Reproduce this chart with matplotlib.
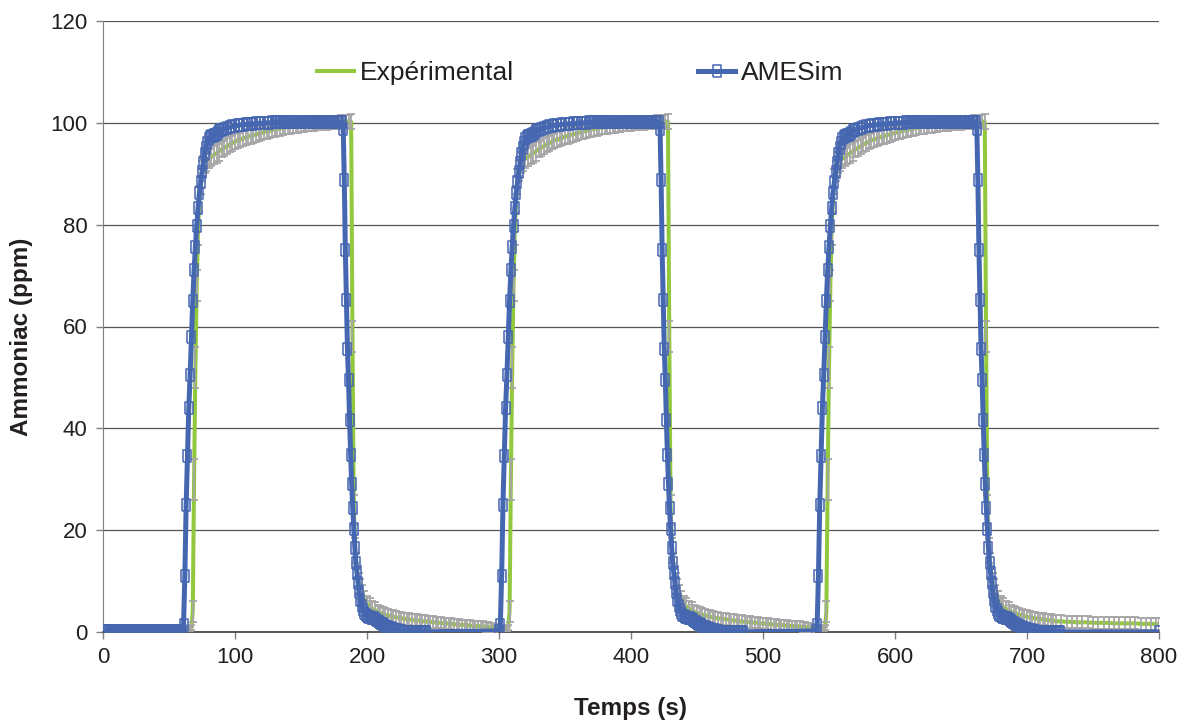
import numpy as np
import matplotlib
matplotlib.use("Agg")
import matplotlib.pyplot as plt

# ---------------- data ----------------
cycle_starts = [0, 240, 480]          # s, the three ammonia pulses

# Experimental: baseline before first pulse (t, value, error)
exp_base_t = [0, 2, 4, 6, 8, 10, 12, 14, 16, 18, 20, 22, 24, 26, 28, 30, 32, 34, 36, 38,
              40, 42, 44, 46, 48, 50, 52, 54, 56, 58]
exp_base_v = [0.6, 0.7, 0.6, 0.5, 0.6, 0.7, 0.6, 0.6, 0.5, 0.6, 0.7, 0.6, 0.6, 0.5, 0.6,
              0.7, 0.6, 0.6, 0.5, 0.6, 0.7, 0.6, 0.6, 0.5, 0.6, 0.7, 0.6, 0.6, 0.5, 0.6]
exp_base_e = [0.4] * 30

# Experimental: one cycle, local time tau (s), value (ppm), error (ppm)
exp_tau = [60, 62, 64, 66, 67, 68, 69, 70, 71, 72, 73, 74, 75, 76, 77, 78, 80, 82, 84, 86,
           88, 90, 92, 94, 96, 98, 100, 102, 104, 106, 108, 110, 112, 114, 116, 118, 120,
           122, 124, 126, 128, 130, 132, 134, 136, 138, 140, 142, 144, 146, 148, 150, 152,
           154, 156, 158, 160, 162, 164, 166, 168, 170, 172, 174, 176, 178, 180, 182, 184,
           186, 188, 189, 190, 191, 192, 193, 194, 195, 196, 198, 200, 202, 204, 206, 208,
           210, 212, 214, 216, 218, 220, 222, 224, 226, 228, 230, 232, 234, 236, 238, 240,
           242, 244, 246, 248, 250, 252, 254, 256, 258, 260, 262, 264, 266, 268, 270, 272,
           274, 276, 278, 280, 282, 284, 286, 288, 290, 292, 294, 296, 298]
exp_val = [0.6, 0.5, 0.7, 0.6, 0.9, 4, 30, 52, 68, 79, 85, 88.5, 90.5, 91.5, 92.2, 92.6,
           93.0, 93.3, 93.7, 94.0, 94.4, 94.8, 95.1, 95.4, 95.8, 96.0, 96.3, 96.6, 96.7,
           96.9, 97.1, 97.3, 97.4, 97.6, 97.7, 97.9, 98.0, 98.2, 98.3, 98.4, 98.6, 98.7,
           98.8, 98.9, 99.0, 99.1, 99.2, 99.2, 99.3, 99.4, 99.4, 99.5, 99.5, 99.6, 99.6,
           99.7, 99.7, 99.8, 99.8, 99.8, 99.9, 99.9, 100.0, 100.0, 100.1, 100.1, 100.2,
           100.2, 100.3, 100.3, 100.2, 58, 24, 16, 13, 11, 9.6, 8.4, 7.5, 6.3, 5.5, 5.0,
           4.6, 4.3, 4.0, 3.8, 3.6, 3.4, 3.3, 3.1, 3.0, 2.9, 2.8, 2.7, 2.6, 2.6, 2.5, 2.4,
           2.3, 2.3, 2.2, 2.1, 2.1, 2.0, 2.0, 1.9, 1.9, 1.8, 1.8, 1.7, 1.7, 1.6, 1.6, 1.5,
           1.5, 1.4, 1.4, 1.4, 1.3, 1.3, 1.2, 1.2, 1.2, 1.1, 1.1, 1.0, 1.0, 0.9, 0.8, 0.7]
exp_err = [0.4, 0.4, 0.4, 0.4, 0.5, 2, 4, 4, 3, 3, 2.5, 2.5, 2, 2, 2, 2, 1.8, 1.8, 1.8,
           1.8, 1.8, 1.6, 1.6, 1.6, 1.6, 1.6, 1.5, 1.5, 1.5, 1.5, 1.5, 1.5, 1.5, 1.5, 1.5,
           1.5, 1.4, 1.4, 1.4, 1.4, 1.4, 1.4, 1.4, 1.4, 1.3, 1.3, 1.3, 1.3, 1.3, 1.3, 1.3,
           1.3, 1.3, 1.3, 1.3, 1.3, 1.3, 1.3, 1.3, 1.3, 1.3, 1.3, 1.3, 1.3, 1.3, 1.3, 1.3,
           1.3, 1.3, 1.3, 1.5, 3, 3, 2.5, 2.5, 2, 2, 2, 1.8, 1.8, 1.6, 1.6, 1.5, 1.5, 1.4,
           1.4, 1.4, 1.3, 1.3, 1.3, 1.3, 1.3, 1.2, 1.2, 1.2, 1.2, 1.2, 1.2, 1.2, 1.2, 1.2,
           1.2, 1.2, 1.2, 1.2, 1.2, 1.1, 1.1, 1.1, 1.1, 1.1, 1.1, 1.1, 1.1, 1.1, 1.1, 1.0,
           1.0, 1.0, 1.0, 1.0, 1.0, 1.0, 1.0, 1.0, 1.0, 0.9, 0.9, 0.8, 0.6]

# Experimental: final tail after the third pulse
exp_end_t = [722, 726, 730, 734, 738, 742, 746, 750, 754, 758, 762, 766, 770, 774, 778,
             782, 786, 790, 794, 798, 800]
exp_end_v = [2.1, 2.1, 2.0, 2.0, 1.9, 1.9, 1.9, 1.8, 1.8, 1.8, 1.8, 1.7, 1.7, 1.7, 1.7,
             1.7, 1.6, 1.6, 1.6, 1.6, 1.6]
exp_end_e = [1.2] * 21

# AMESim: one cycle, local time tau (s) and value (ppm)
sim_base_tau = list(range(0, 61))
sim_base_val = [0.2] * 61
sim_rise_tau = [61, 62, 63, 64, 65, 66, 67, 68, 69, 70, 71, 72, 73, 74, 75, 76, 77, 78, 79,
                80, 81, 82, 83, 84, 85, 86, 87, 88, 89, 90, 92, 94, 96, 98, 100, 102, 104,
                106, 108, 110, 112, 114, 116, 118, 120, 122, 124, 126, 128]
sim_rise_val = [1.3, 11, 25, 34.5, 44, 50.5, 58, 65, 71, 75.7, 79.7, 83.2, 86.2, 88.3, 90.3,
                92.2, 93.8, 95.1, 96.1, 96.8, 97.2, 97.4, 97.5, 97.6, 97.7, 97.9, 98.1, 98.3,
                98.5, 98.6, 98.8, 99.0, 99.1, 99.3, 99.4, 99.5, 99.6, 99.6, 99.7, 99.7, 99.8,
                99.8, 99.9, 99.9, 99.9, 100.0, 100.0, 100.0, 100.1]
sim_top_tau = list(range(130, 182))
sim_top_val = [100.1] * 52
sim_fall_tau = [182, 182.8, 183.6, 184.4, 185.2, 186, 186.8, 187.6, 188.4, 189.2, 190,
                190.8, 191.6, 192.4, 193.2, 194, 195, 196, 197, 198, 199, 200, 201, 202,
                203, 204, 205, 206, 207, 208, 209, 210, 211, 212, 213, 214, 215, 216, 217,
                218, 219, 220, 221, 222, 223, 224, 225, 226]
sim_fall_val = [98.8, 88.7, 75, 65.2, 55.6, 49.5, 41.7, 34.8, 29, 24.3, 20.2, 16.5, 13.5,
                11.6, 9.6, 7.8, 6.3, 5.2, 4.4, 3.8, 3.4, 3.1, 3.0, 2.9, 2.8, 2.8, 2.7, 2.6,
                2.4, 2.2, 2.0, 1.8, 1.6, 1.5, 1.3, 1.2, 1.0, 0.9, 0.8, 0.7, 0.6, 0.5, 0.4,
                0.3, 0.3, 0.2, 0.2, 0.1]
sim_low_tau = list(range(227, 246))
sim_low_val = [0.05] * 19
sim_final_t = [800]
sim_final_v = [0.0]

x_ticks = [0, 100, 200, 300, 400, 500, 600, 700, 800]
y_ticks = [0, 20, 40, 60, 80, 100, 120]

# ---------------- assemble series ----------------
sim_tau = np.array(sim_base_tau + sim_rise_tau + sim_top_tau + sim_fall_tau + sim_low_tau, float)
sim_val = np.array(sim_base_val + sim_rise_val + sim_top_val + sim_fall_val + sim_low_val, float)

sim_t, sim_v = [], []
for k, s in enumerate(cycle_starts):
    m = np.ones_like(sim_tau, bool) if k == 0 else sim_tau >= 60
    sim_t.append(sim_tau[m] + s)
    sim_v.append(sim_val[m])
sim_t.append(np.array(sim_final_t, float))
sim_v.append(np.array(sim_final_v, float))
sim_t = np.concatenate(sim_t)
sim_v = np.concatenate(sim_v)

etau = np.array(exp_tau, float)
evals = np.array(exp_val, float)
eerr = np.array(exp_err, float)
ex_t = [np.array(exp_base_t, float)]
ex_v = [np.array(exp_base_v, float)]
ex_e = [np.array(exp_base_e, float)]
for k, s in enumerate(cycle_starts):
    m = np.ones_like(etau, bool) if k < 2 else etau <= 240
    ex_t.append(etau[m] + s)
    ex_v.append(evals[m])
    ex_e.append(eerr[m])
ex_t.append(np.array(exp_end_t, float))
ex_v.append(np.array(exp_end_v, float))
ex_e.append(np.array(exp_end_e, float))
ex_t = np.concatenate(ex_t)
ex_v = np.concatenate(ex_v)
ex_e = np.concatenate(ex_e)

# ---------------- plot ----------------
plt.rcParams['font.family'] = ['Liberation Sans', 'DejaVu Sans']
text_col = '#231f20'
green = '#92c83e'
blue = '#4566b0'
grey = '#a6a6a6'

fig = plt.figure(figsize=(11.88, 7.22), dpi=100)
ax = fig.add_axes([103 / 1188, 1 - 632 / 722, (1159 - 103) / 1188, (632 - 21) / 722])

ax.plot(ex_t, ex_v, color=green, lw=2.9, zorder=2, label='Expérimental',
        solid_joinstyle='round')
ax.errorbar(ex_t, ex_v, yerr=ex_e, fmt='none', ecolor=grey, elinewidth=1.3,
            capsize=2.8, capthick=1.3, zorder=3)

rect = [(-0.36, -0.5), (0.36, -0.5), (0.36, 0.5), (-0.36, 0.5), (-0.36, -0.5)]
ax.plot(sim_t, sim_v, color=blue, lw=3.6, zorder=4, marker=rect, markersize=8.5,
        markerfacecolor='none', markeredgecolor=blue, markeredgewidth=1.1,
        label='AMESim', solid_joinstyle='round')

ax.set_xlim(0, 800)
ax.set_ylim(0, 120)
ax.set_xticks(x_ticks)
ax.set_yticks(y_ticks)
ax.tick_params(axis='both', direction='out', length=5, width=1, colors='#808080',
               labelcolor=text_col, labelsize=16, pad=6)
ax.yaxis.grid(True, color='#555555', lw=0.9)
ax.set_axisbelow(True)
for side in ['top', 'right']:
    ax.spines[side].set_visible(False)
ax.spines['left'].set_color('#808080')
ax.spines['bottom'].set_color('#2b2b2b')
ax.spines['bottom'].set_linewidth(1.1)

ax.set_xlabel('Temps (s)', fontsize=17.5, fontweight='bold', color=text_col)
ax.set_ylabel('Ammoniac (ppm)', fontsize=17.5, fontweight='bold', color=text_col)
ax.xaxis.set_label_coords(0.5, -(708 - 632) / 611, transform=ax.transAxes)
ax.yaxis.set_label_coords((22 - 103) / 1056, (632 - 337) / 611, transform=ax.transAxes)
ax.xaxis.label.set_va('center')
ax.yaxis.label.set_va('center')

leg = ax.legend(loc='center', bbox_to_anchor=(0.452, 0.915), ncol=2, frameon=False,
                fontsize=19, handlelength=1.4, handletextpad=0.2, columnspacing=7.0,
                numpoints=1, labelcolor=text_col)

fig.savefig('out.png', dpi=100)
